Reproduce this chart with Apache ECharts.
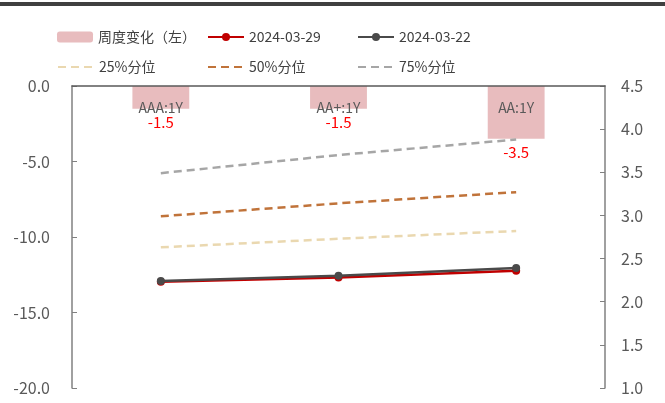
<!DOCTYPE html>
<html><head><meta charset="utf-8">
<script src="https://cdn.jsdelivr.net/npm/echarts@6/dist/echarts.min.js"></script>
<style>html,body{margin:0;padding:0;background:#fff}#c{width:665px;height:403px}</style>
</head><body><div id="c"></div>
<script>
const categories = ['AAA:1Y', 'AA+:1Y', 'AA:1Y'];
const weeklyChange = [-1.5, -1.5, -3.5];
const s0329 = [2.23, 2.28, 2.36];
const s0322 = [2.24, 2.30, 2.39];
const p25 = [2.63, 2.73, 2.82];
const p50 = [2.99, 3.14, 3.27];
const p75 = [3.49, 3.70, 3.88];
const leftTicks = {min: -20, max: 0, interval: 5};
const rightTicks = {min: 1.0, max: 4.5, interval: 0.5};

const FONT = '"Noto Sans CJK SC", "Noto Sans", sans-serif';
const chart = echarts.init(document.getElementById('c'));
const names = ['周度变化（左）', '2024-03-29', '2024-03-22', '25%分位', '50%分位', '75%分位'];
const legendPos = [[57, 30], [207, 30], [357, 30], [57, 60], [207, 60], [357, 60]];
const legends = names.map((n, i) => {
  const lg = {
    data: [n], left: legendPos[i][0], top: legendPos[i][1],
    itemWidth: 36, itemHeight: i === 0 ? 11 : 10, itemGap: 4,
    textStyle: {fontFamily: FONT, fontSize: 14, color: '#404040'},
    padding: 0
  };
  if (i >= 3) lg.itemStyle = {opacity: 0};
  return lg;
});
function dashed(name, data, color) {
  return {name, type: 'line', yAxisIndex: 1, data, symbol: 'none', z: 3,
    lineStyle: {color, width: 2.5, type: [8, 5]}, itemStyle: {color}};
}
chart.setOption({
  animation: false,
  textStyle: {fontFamily: FONT},
  legend: legends,
  graphic: [{type: 'rect', shape: {x: 0, y: 2, width: 665, height: 4}, style: {fill: '#404040'}}],
  grid: {left: 72, right: 60, top: 86, bottom: 15},
  xAxis: {
    type: 'category', data: categories, position: 'top', z: 5,
    axisLine: {lineStyle: {color: '#595959', width: 1.5}},
    axisTick: {inside: true, length: 4, lineStyle: {color: '#595959'}},
    axisLabel: {inside: true, margin: 15, color: '#595959', fontSize: 14, fontFamily: FONT}
  },
  yAxis: [{
    type: 'value', min: leftTicks.min, max: leftTicks.max, interval: leftTicks.interval,
    splitLine: {show: false},
    axisLine: {show: true, lineStyle: {color: '#808080', width: 1.5}},
    axisTick: {show: true, inside: true, length: 5, lineStyle: {color: '#808080'}},
    axisLabel: {margin: 22, color: '#595959', fontSize: 16, fontFamily: FONT, formatter: v => v.toFixed(1)}
  }, {
    type: 'value', min: rightTicks.min, max: rightTicks.max, interval: rightTicks.interval,
    splitLine: {show: false},
    axisLine: {show: true, lineStyle: {color: '#808080', width: 1.5}},
    axisTick: {show: true, inside: true, length: 5, lineStyle: {color: '#808080'}},
    axisLabel: {margin: 16, color: '#595959', fontSize: 16, fontFamily: FONT, formatter: v => v.toFixed(1)}
  }],
  series: [
    {name: names[0], type: 'bar', data: weeklyChange, barWidth: '32%', z: 1,
      itemStyle: {color: '#E8BCBE'},
      label: {show: true, position: 'bottom', distance: 6, color: '#FF0000', fontSize: 15, fontFamily: FONT,
        formatter: p => p.value.toFixed(1)}},
    dashed(names[3], p25, '#EAD8B0'),
    dashed(names[4], p50, '#C0733A'),
    dashed(names[5], p75, '#A6A6A6'),
    {name: names[1], type: 'line', yAxisIndex: 1, data: s0329, symbol: 'circle', symbolSize: 8, z: 4,
      lineStyle: {color: '#C00000', width: 2.5}, itemStyle: {color: '#C00000'}},
    {name: names[2], type: 'line', yAxisIndex: 1, data: s0322, symbol: 'circle', symbolSize: 8, z: 5,
      lineStyle: {color: '#4A4A4A', width: 2.5}, itemStyle: {color: '#4A4A4A'}}
  ]
});
</script></body></html>
